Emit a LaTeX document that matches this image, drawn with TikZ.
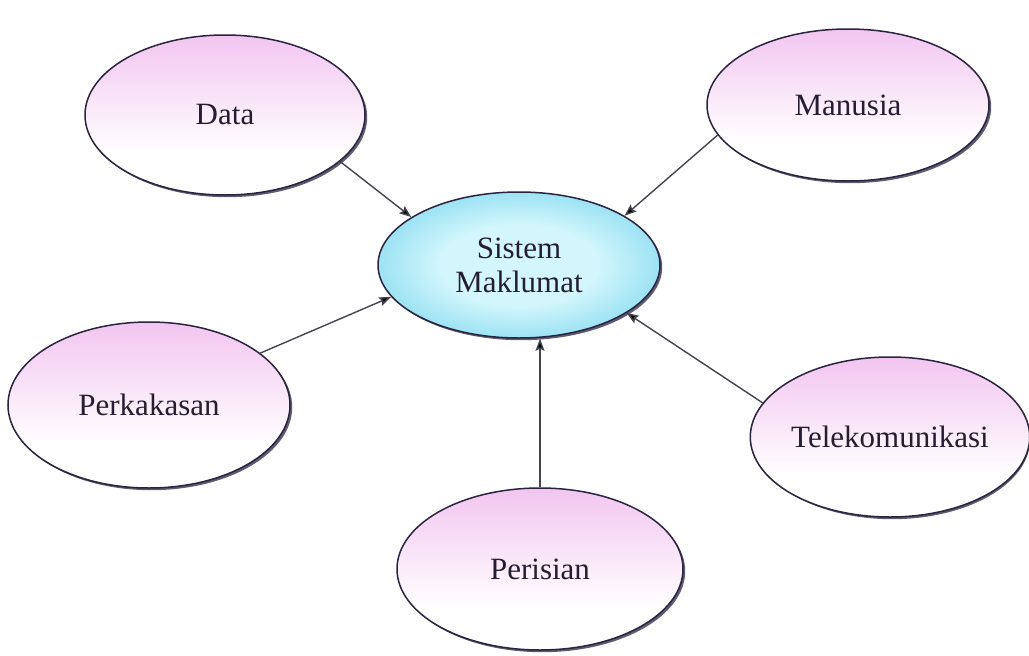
\documentclass[tikz,border=0pt]{standalone}
\usepackage{fontspec}
\setmainfont{Liberation Serif}
\usetikzlibrary{arrows.meta,shapes.geometric}

\definecolor{rim}{HTML}{2A2440}
\definecolor{pinktop}{HTML}{E39BE0}
\definecolor{pinkmid}{HTML}{F4CDF2}
\definecolor{smin}{HTML}{D2F6FC}
\definecolor{smout}{HTML}{22B6E0}
\definecolor{linkgray}{HTML}{44444F}
\definecolor{inkcol}{HTML}{251E33}

% pink top fading to white towards the bottom
\pgfdeclareverticalshading{pinkfade}{100bp}{
  color(0bp)=(white); color(38bp)=(white); color(70bp)=(pinkmid); color(100bp)=(pinktop)}
% light core with cyan rim
\pgfdeclareradialshading{cyanglow}{\pgfpointorigin}{
  color(0bp)=(smin); color(14bp)=(smin); color(50bp)=(smout)}

\tikzset{
  bubble/.style={ellipse, draw=rim, line width=1.5pt, inner sep=0pt,
    shading=pinkfade, text=inkcol, align=center,
    font=\fontsize{31}{34}\selectfont},
  hub/.style={bubble, shading=cyanglow},
  rimshadow/.style={ellipse, inner sep=0pt, fill=rim!75, draw=none},
  link/.style={draw=linkgray, line width=1.4pt,
    -{Stealth[length=12pt,width=9pt,inset=2pt,fill=black]}},
}

\begin{document}
\begin{tikzpicture}[x=1pt,y=-1pt]
\useasboundingbox (0,0) rectangle (1029,656);

% soft dark rim at the lower right of every bubble
\foreach \cx/\cy/\rx/\ry in {225/115/140/80, 848/105/141/76, 519/265/141/73,
                              149/405/141/83, 890/437/138/80, 540/569/143/81}
  \node[rimshadow, minimum width=2*\rx pt, minimum height=2*\ry pt]
    at (\cx+2.2,\cy+2.2) {};

\node[bubble, minimum width=280pt, minimum height=160pt] (data) at (225,115) {Data};
\node[bubble, minimum width=282pt, minimum height=152pt] (manusia) at (848,105) {Manusia};
\node[hub, minimum width=282pt, minimum height=146pt] (sm) at (519,265) {Sistem\\Maklumat};
\node[bubble, minimum width=282pt, minimum height=166pt] (perkakasan) at (149,405) {Perkakasan};
\node[bubble, minimum width=276pt, minimum height=160pt] (tele) at (890,437) {Telekomunikasi};
\node[bubble, minimum width=286pt, minimum height=162pt] (perisian) at (540,569) {Perisian};

\draw[link] (data.-22) -- (sm.156);
\draw[link] (manusia.-167) -- (sm.25);
\draw[link] (perkakasan.25) -- (sm.194);
\draw[link] (perisian.north) -- (perisian.north |- sm.south);
\draw[link] (tele.165) -- (sm.-24);
\end{tikzpicture}
\end{document}
